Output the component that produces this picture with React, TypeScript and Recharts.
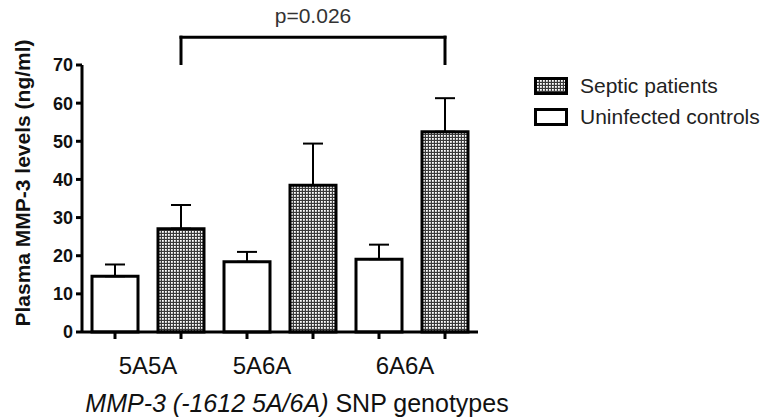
import {
  BarChart,
  Bar,
  Cell,
  XAxis,
  YAxis,
  ErrorBar,
  ReferenceLine,
} from 'recharts';

const genotypes = ['5A5A', '5A6A', '6A6A'];
const controlMeans = [14.6, 18.4, 19.1];
const controlErrors = [3.1, 2.6, 3.8];
const septicMeans = [27.1, 38.5, 52.5];
const septicErrors = [6.2, 10.9, 8.8];
const yTicks = [0, 10, 20, 30, 40, 50, 60, 70];
const seriesNames = ['Septic patients', 'Uninfected controls'];
const pValueText = 'p=0.026';
const bracketTop = 77.3;
const bracketBottom = 70.4;

// the original labels are not exactly centred under each pair
const labelNudge = [0, -18, -7];

const chartData = genotypes.flatMap((g, i) => [
  { key: `${g}-control`, genotype: g, group: 'control', value: controlMeans[i], err: [0, controlErrors[i]] },
  { key: `${g}-septic`, genotype: g, group: 'septic', value: septicMeans[i], err: [0, septicErrors[i]] },
]);

const firstSeptic = `${genotypes[0]}-septic`;
const lastSeptic = `${genotypes[genotypes.length - 1]}-septic`;

const FONT = 'Arial, "Liberation Sans", sans-serif';

const CheckerDefs = ({ id }: { id: string }) => (
  <defs>
    <pattern id={id} width="3" height="3" patternUnits="userSpaceOnUse">
      <rect width="3" height="3" fill="#3a3a3a" />
      <rect width="1.8" height="1.8" fill="#ffffff" />
    </pattern>
  </defs>
);

// legend sits outside the plot, on the right
const SeriesLegend = () => (
  <div
    style={{
      position: 'absolute',
      left: 534,
      top: 70,
      fontFamily: FONT,
      fontSize: 21,
      color: '#222',
    }}
  >
    {seriesNames.map((name, i) => (
      <div key={name} style={{ display: 'flex', alignItems: 'center', height: 31 }}>
        <svg width={34} height={18} style={{ marginRight: 12 }}>
          <CheckerDefs id={`legendChecker${i}`} />
          <rect
            x={1.5}
            y={1.5}
            width={31}
            height={15}
            fill={i === 0 ? `url(#legendChecker${i})` : '#fff'}
            stroke="#000"
            strokeWidth={3}
          />
        </svg>
        <span>{name}</span>
      </div>
    ))}
  </div>
);

// one genotype label per pair of bars, drawn from the septic tick
const GenotypeTick = (props: any) => {
  const { x, y, payload, index } = props;
  if (index % 2 === 0) return null;
  const gi = (index - 1) / 2;
  return (
    <text
      x={x - payload.offset + labelNudge[gi]}
      y={y}
      dy={33}
      textAnchor="middle"
      fontFamily={FONT}
      fontSize={24}
      fill="#111"
    >
      {genotypes[gi]}
    </text>
  );
};

const YTitle = (props: any) => {
  const { viewBox } = props;
  const x = viewBox.x + 22;
  const y = 183;
  return (
    <text
      x={x}
      y={y}
      transform={`rotate(-90, ${x}, ${y})`}
      textAnchor="middle"
      dominantBaseline="central"
      fontFamily={FONT}
      fontSize={21}
      fontWeight="bold"
      fill="#111"
    >
      Plasma MMP-3 levels (ng/ml)
    </text>
  );
};

const XTitle = () => (
  <text x={297} y={412} textAnchor="middle" fontFamily={FONT} fontSize={25} fill="#111">
    <tspan fontStyle="italic">MMP-3 (-1612 5A/6A)</tspan>
    <tspan> SNP genotypes</tspan>
  </text>
);

export default function App() {
  return (
    <div style={{ position: 'absolute', left: 0, top: 0, width: 768, height: 420, background: '#fff' }}>
      <BarChart
        width={768}
        height={420}
        data={chartData}
        margin={{ top: 65, right: 290, bottom: 0, left: 0 }}
      >
        <CheckerDefs id="septicChecker" />
        <XAxis
          dataKey="key"
          height={88}
          interval={0}
          tick={<GenotypeTick />}
          tickSize={7}
          axisLine={{ stroke: '#000', strokeWidth: 3 }}
          tickLine={{ stroke: '#000', strokeWidth: 3 }}
          label={<XTitle />}
        />
        <YAxis
          width={82}
          domain={[0, 70]}
          ticks={yTicks}
          tickSize={6}
          tickMargin={3}
          axisLine={{ stroke: '#000', strokeWidth: 3 }}
          tickLine={{ stroke: '#000', strokeWidth: 3 }}
          tick={{ fontFamily: FONT, fontSize: 18, fontWeight: 'bold', fill: '#111' }}
          label={<YTitle />}
        />
        <Bar dataKey="value" barSize={46} stroke="#000" strokeWidth={3} isAnimationActive={false}>
          {chartData.map((d) => (
            <Cell key={d.key} fill={d.group === 'septic' ? 'url(#septicChecker)' : '#ffffff'} />
          ))}
          <ErrorBar dataKey="err" direction="y" width={10} stroke="#000" strokeWidth={2} />
        </Bar>
        <ReferenceLine
          ifOverflow="visible"
          segment={[
            { x: firstSeptic, y: bracketTop },
            { x: lastSeptic, y: bracketTop },
          ]}
          stroke="#000"
          strokeWidth={3}
          strokeLinecap="square"
          label={{ value: pValueText, position: 'top', offset: 14, fontFamily: FONT, fontSize: 21, fill: '#333' }}
        />
        <ReferenceLine
          ifOverflow="visible"
          segment={[
            { x: firstSeptic, y: bracketTop },
            { x: firstSeptic, y: bracketBottom },
          ]}
          stroke="#000"
          strokeWidth={3}
          strokeLinecap="square"
        />
        <ReferenceLine
          ifOverflow="visible"
          segment={[
            { x: lastSeptic, y: bracketTop },
            { x: lastSeptic, y: bracketBottom },
          ]}
          stroke="#000"
          strokeWidth={3}
          strokeLinecap="square"
        />
      </BarChart>
      <SeriesLegend />
    </div>
  );
}
